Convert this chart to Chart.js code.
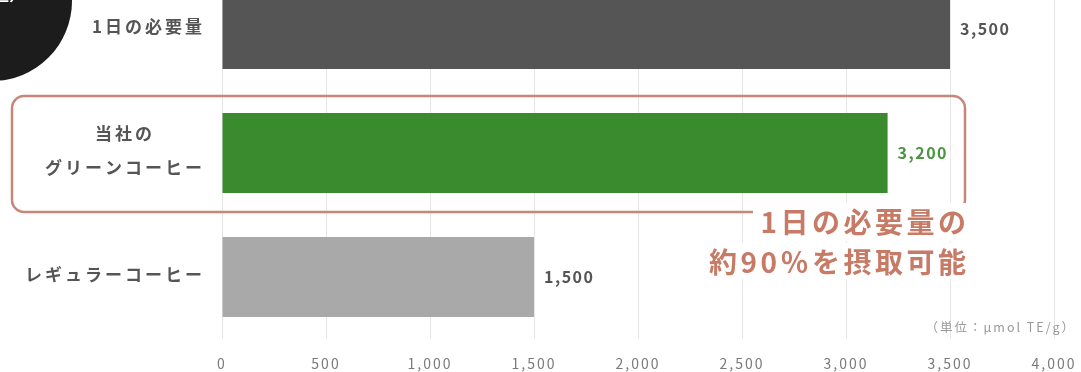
<!DOCTYPE html>
<html lang="ja">
<head>
<meta charset="UTF-8">
<title>抗酸化力の比較</title>
<script src="https://cdn.jsdelivr.net/npm/chart.js@4.4.1/dist/chart.umd.min.js"></script>
<style>
  html, body { margin: 0; padding: 0; background: #fff; overflow: hidden; }
  body { width: 1081px; height: 372px; position: relative; }
  /* 上のバーが画面上端で切れているので、キャンバスを少し上にずらす */
  #chart-wrap { position: absolute; left: 0; top: -33px; width: 1081px; height: 405px; }
</style>
</head>
<body>
<div id="chart-wrap"><canvas id="antioxChart"></canvas></div>
<script>
// --- データ ---
const categories = ['1日の必要量', ['当社の', 'グリーンコーヒー'], 'レギュラーコーヒー'];
const values = [3500, 3200, 1500]; // μmol TE/g
const barColors = ['#555555', '#3a8b2e', '#a9a9a9'];
const valueLabelColors = ['#555555', '#4a9540', '#555555'];
const xTicks = [0, 500, 1000, 1500, 2000, 2500, 3000, 3500, 4000];
const unitLabel = '（単位：μmol TE/g）';
const calloutLines = ['1日の必要量の', '約90％を摂取可能'];
const highlightIndex = 1; // 当社のグリーンコーヒー

const FONT = '"Noto Sans CJK JP", "Noto Sans", sans-serif';
const CALLOUT_COLOR = '#c77b66';

// テキスト描画ヘルパー (letterSpacing の後ろ余白を補正)
function drawText(ctx, text, x, y, align, spacing) {
    let w = ctx.measureText(text).width;
    let left = x;
    if (align === 'right') left = x - w + spacing;
    else if (align === 'center') left = x - (w - spacing) / 2;
    ctx.textAlign = 'left';
    ctx.fillText(text, left, y);
}

// Y軸のカテゴリラベル (右揃え、複数行は中央揃え)
const categoryLabelPlugin = {
    id: 'categoryLabels',
    afterDraw(chart) {
        const ctx = chart.ctx;
        const yScale = chart.scales.y;
        const rightEdge = chart.chartArea.left - 20;
        ctx.save();
        ctx.font = 'bold 17px ' + FONT;
        ctx.letterSpacing = '3px';
        ctx.fillStyle = '#555555';
        ctx.textBaseline = 'middle';
        categories.forEach((label, i) => {
            const y = yScale.getPixelForValue(i);
            const lines = Array.isArray(label) ? label : [label];
            const widest = Math.max(...lines.map(l => ctx.measureText(l).width));
            const cx = rightEdge - widest / 2 + 3 / 2;
            const lineH = 34;
            lines.forEach((line, j) => {
                const ly = y - 2 + (j - (lines.length - 1) / 2) * lineH;
                drawText(ctx, line, cx, ly, 'center', 3);
            });
        });
        ctx.restore();
    }
};

// バーの値ラベル
const valueLabelPlugin = {
    id: 'valueLabels',
    afterDatasetsDraw(chart) {
        const ctx = chart.ctx;
        ctx.save();
        ctx.font = 'bold 16px ' + FONT;
        ctx.letterSpacing = '1.5px';
        ctx.textBaseline = 'middle';
        chart.getDatasetMeta(0).data.forEach((bar, i) => {
            ctx.fillStyle = valueLabelColors[i];
            drawText(ctx, values[i].toLocaleString('en-US'), bar.x + 10, bar.y, 'left', 1.5);
        });
        ctx.restore();
    }
};

// 囲み枠・コメント・単位・左上の丸
const calloutPlugin = {
    id: 'callout',
    afterDraw(chart) {
        const ctx = chart.ctx;
        const xs = chart.scales.x;
        const ys = chart.scales.y;
        const yc = ys.getPixelForValue(highlightIndex);
        const right = xs.getPixelForValue(values[0]) + 15;
        ctx.save();

        // 枠
        ctx.strokeStyle = '#c8867a';
        ctx.lineWidth = 2.5;
        ctx.beginPath();
        ctx.roundRect(12, yc - 57, right - 12, 116, 12);
        ctx.stroke();

        // コメント背景
        ctx.fillStyle = '#ffffff';
        ctx.fillRect(right - 212, yc + 50, 226, 38);
        ctx.fillRect(right - 264, yc + 90, 278, 36);

        // コメント
        ctx.font = 'bold 28px ' + FONT;
        ctx.letterSpacing = '3.5px';
        ctx.fillStyle = CALLOUT_COLOR;
        ctx.textBaseline = 'middle';
        drawText(ctx, calloutLines[0], right + 1, yc + 69, 'right', 3.5);
        drawText(ctx, calloutLines[1], right + 1, yc + 109, 'right', 3.5);

        // 単位
        ctx.font = '12.5px ' + FONT;
        ctx.letterSpacing = '2px';
        ctx.fillStyle = '#999999';
        drawText(ctx, unitLabel, xs.getPixelForValue(xTicks[xTicks.length - 1]) + 20, chart.chartArea.bottom - 12, 'right', 2);

        // 左上の黒い丸
        ctx.fillStyle = '#1c1c1c';
        ctx.beginPath();
        ctx.arc(-8, 34, 80, 0, Math.PI * 2);
        ctx.fill();
        ctx.font = 'bold 17px ' + FONT;
        ctx.letterSpacing = '0px';
        ctx.fillStyle = '#ffffff';
        ctx.textBaseline = 'alphabetic';
        ctx.textAlign = 'right';
        ctx.fillText('（ORAC値）', 26, 34);

        ctx.restore();
    }
};

// 目盛りラベルの字間
const tickSpacingPlugin = {
    id: 'tickSpacing',
    beforeDraw(chart) {
        chart.ctx.letterSpacing = '2px';
    }
};

const ctx = document.getElementById('antioxChart').getContext('2d');
new Chart(ctx, {
    type: 'bar',
    data: {
        labels: categories,
        datasets: [{
            data: values,
            backgroundColor: barColors,
            borderWidth: 0,
            barPercentage: 0.645,
            categoryPercentage: 1
        }]
    },
    options: {
        indexAxis: 'y',
        responsive: true,
        maintainAspectRatio: false,
        animation: false,
        layout: { padding: { left: 222, right: 27, top: 0, bottom: 0 } },
        scales: {
            x: {
                min: xTicks[0],
                max: xTicks[xTicks.length - 1],
                afterBuildTicks: scale => { scale.ticks = xTicks.map(v => ({ value: v })); },
                afterFit: scale => {
                    scale.height = 33;
                    // 端のラベル分の余白でプロット幅が縮まないようにする
                    scale.paddingLeft = 0;
                    scale.paddingRight = 0;
                },
                grid: { color: '#e6e6e6', lineWidth: 1, drawTicks: false },
                border: { display: false },
                ticks: {
                    padding: 16,
                    color: '#7a7a7a',
                    font: { family: FONT, size: 14 },
                    callback: v => v.toLocaleString('en-US')
                }
            },
            y: {
                display: false
            }
        },
        plugins: {
            legend: { display: false },
            tooltip: { enabled: false }
        }
    },
    plugins: [tickSpacingPlugin, valueLabelPlugin, categoryLabelPlugin, calloutPlugin]
});
</script>
</body>
</html>
